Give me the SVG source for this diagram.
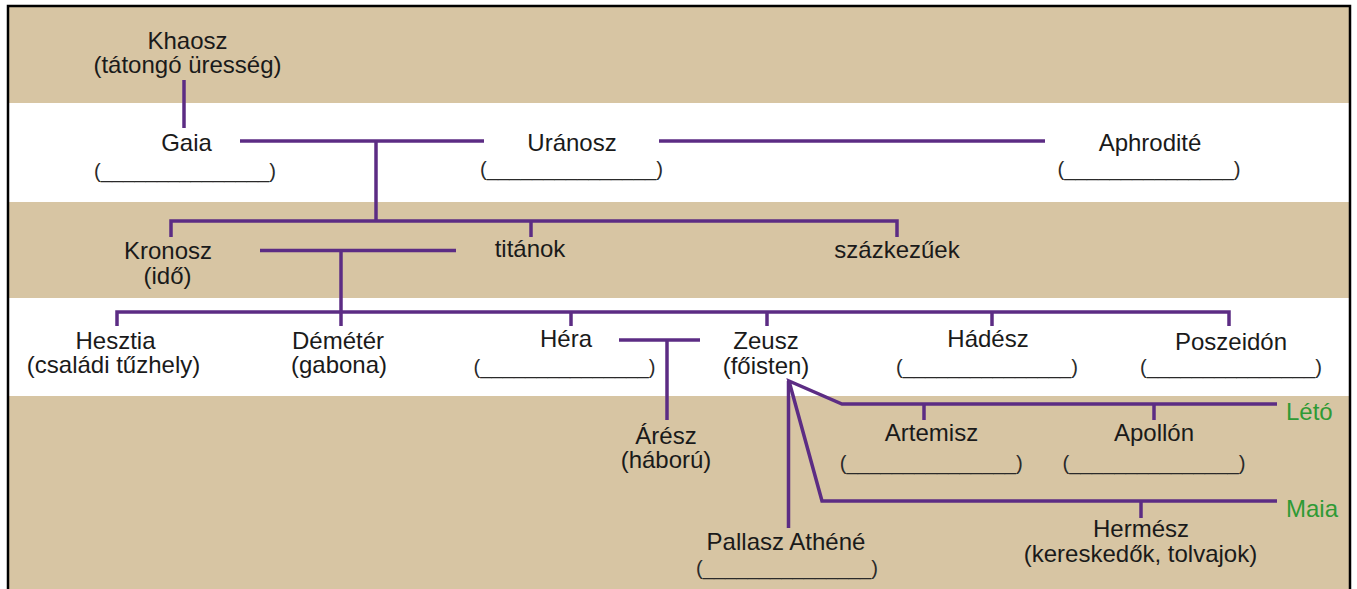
<svg xmlns="http://www.w3.org/2000/svg" width="1357" height="589" viewBox="0 0 1357 589">
<style>
.t{font-family:"Liberation Sans",Arial,Helvetica,sans-serif;font-size:24px;fill:#1a1a1a;text-anchor:middle}
.b{font-family:"Liberation Sans",Arial,Helvetica,sans-serif;font-size:21px;fill:#2a2a2a;text-anchor:middle}
.g{font-family:"Liberation Sans",Arial,Helvetica,sans-serif;font-size:24px;fill:#2f9a35}
.c{fill:none;stroke:#5c2c84;stroke-width:3.5;stroke-linejoin:miter;stroke-linecap:butt}
</style>
<rect x="0" y="0" width="1357" height="589" fill="#ffffff"/>
<g id="background">
<rect x="8" y="6" width="1342" height="583" fill="#d7c5a3"/>
<rect x="9" y="103" width="1340" height="99" fill="#ffffff"/>
<rect x="9" y="298" width="1340" height="98" fill="#ffffff"/>
<path d="M8,589 V6 H1350 V589" fill="none" stroke="#000" stroke-width="2.5"/>
</g>
<g id="connectors" class="c">
<path d="M184,80 V128"/>
<path d="M240,141 H484"/>
<path d="M376,141 V221"/>
<path d="M659,141 H1045"/>
<path d="M171,237 V221 H897 V237"/>
<path d="M531,221 V237"/>
<path d="M260,250.5 H456"/>
<path d="M341,250.5 V326"/>
<path d="M117,326 V312 H1229 V326"/>
<path d="M571,312 V326"/>
<path d="M767,312 V326"/>
<path d="M992,312 V326"/>
<path d="M619,340 H700"/>
<path d="M667,340 V420"/>
<path d="M788.5,381 V528"/>
<path d="M1277,404 H842 L789,381 L822,501 H1277"/>
<path d="M924,404 V420"/>
<path d="M1154,404 V420"/>
<path d="M1141,501 V518"/>
</g>
<g id="khaosz"><text class="t" x="187.5" y="49">Khaosz</text><text class="t" x="187.5" y="73">(tátongó üresség)</text></g>
<g id="gaia"><text class="t" x="186.5" y="151">Gaia</text><text class="b" x="185" y="177.5" textLength="182" lengthAdjust="spacingAndGlyphs">(_______________)</text></g>
<g id="uranosz"><text class="t" x="572" y="151">Uránosz</text><text class="b" x="571.5" y="176" textLength="183" lengthAdjust="spacingAndGlyphs">(_______________)</text></g>
<g id="aphrodite"><text class="t" x="1150" y="151">Aphrodité</text><text class="b" x="1149" y="176" textLength="183" lengthAdjust="spacingAndGlyphs">(_______________)</text></g>
<g id="kronosz"><text class="t" x="168" y="259">Kronosz</text><text class="t" x="167.5" y="284">(idő)</text></g>
<g id="titanok"><text class="t" x="530" y="257">titánok</text></g>
<g id="szazkezuek"><text class="t" x="897" y="258">százkezűek</text></g>
<g id="hesztia"><text class="t" x="115.5" y="349">Hesztia</text><text class="t" x="113.5" y="373">(családi tűzhely)</text></g>
<g id="demeter"><text class="t" x="338" y="349">Démétér</text><text class="t" x="339" y="373">(gabona)</text></g>
<g id="hera"><text class="t" x="566" y="347">Héra</text><text class="b" x="564.5" y="374" textLength="182" lengthAdjust="spacingAndGlyphs">(_______________)</text></g>
<g id="zeusz"><text class="t" x="766" y="349">Zeusz</text><text class="t" x="766" y="374">(főisten)</text></g>
<g id="hadesz"><text class="t" x="988" y="347">Hádész</text><text class="b" x="987" y="374" textLength="182" lengthAdjust="spacingAndGlyphs">(_______________)</text></g>
<g id="poszeidon"><text class="t" x="1231" y="350">Poszeidón</text><text class="b" x="1231" y="374" textLength="182" lengthAdjust="spacingAndGlyphs">(_______________)</text></g>
<g id="aresz"><text class="t" x="666" y="444">Árész</text><text class="t" x="666" y="468">(háború)</text></g>
<g id="artemisz"><text class="t" x="931.5" y="441">Artemisz</text><text class="b" x="931.3" y="469.5" textLength="183" lengthAdjust="spacingAndGlyphs">(_______________)</text></g>
<g id="apollon"><text class="t" x="1154" y="441">Apollón</text><text class="b" x="1154" y="469.5" textLength="183" lengthAdjust="spacingAndGlyphs">(_______________)</text></g>
<g id="leto"><text class="g" x="1286" y="420">Létó</text></g>
<g id="maia"><text class="g" x="1286" y="517">Maia</text></g>
<g id="pallasz"><text class="t" x="786" y="550">Pallasz Athéné</text><text class="b" x="787" y="574.5" textLength="182" lengthAdjust="spacingAndGlyphs">(_______________)</text></g>
<g id="hermesz"><text class="t" x="1141" y="537">Hermész</text><text class="t" x="1140.5" y="562">(kereskedők, tolvajok)</text></g>
</svg>
